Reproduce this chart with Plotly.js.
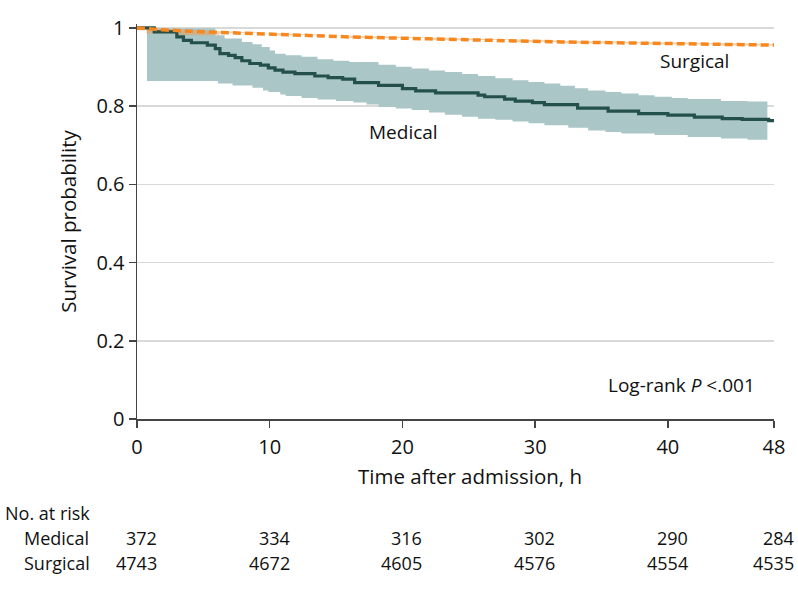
<!DOCTYPE html>
<html>
<head>
<meta charset="utf-8">
<script src="https://cdn.plot.ly/plotly-3.0.1.min.js"></script>
<style>html,body{margin:0;padding:0;background:#fff;}#chart{width:798px;height:590px;}</style>
</head>
<body>
<div id="chart"></div>
<script>
// Medical Kaplan-Meier estimate (step function)
const medT = [0, 1.3, 3.0, 3.5, 4.1, 5.3, 5.9, 6.25, 6.9, 7.4, 7.9, 8.5, 9.3, 9.9, 10.4, 11.0, 11.9, 13.4, 14.4, 15.5, 16.4, 18.2, 20.0, 21.0, 22.5, 25.7, 26.2, 27.7, 28.5, 29.8, 30.7, 33.2, 35.5, 37.8, 40.0, 42.0, 44.1, 45.6, 47.6, 48];
const medS = [1.0, 0.990, 0.977, 0.968, 0.962, 0.956, 0.947, 0.934, 0.930, 0.924, 0.916, 0.909, 0.905, 0.898, 0.892, 0.887, 0.883, 0.877, 0.873, 0.869, 0.860, 0.853, 0.845, 0.839, 0.834, 0.828, 0.824, 0.818, 0.813, 0.809, 0.804, 0.795, 0.787, 0.781, 0.777, 0.772, 0.768, 0.766, 0.763, 0.763];
// Medical 95% CI
const medLoT = [0.75, 6.1, 7.2, 8.7, 9.5, 9.9, 10.8, 11.2, 12.4, 13.6, 15.0, 16.3, 17.3, 18.2, 19.5, 20.7, 22.0, 23.2, 24.5, 25.7, 27.0, 28.3, 29.5, 30.7, 32.5, 34.0, 35.3, 36.5, 39.0, 41.5, 44.0, 46.0, 47.5];
const medLo = [0.864, 0.858, 0.853, 0.847, 0.840, 0.836, 0.830, 0.826, 0.821, 0.817, 0.813, 0.809, 0.804, 0.798, 0.794, 0.790, 0.784, 0.778, 0.773, 0.768, 0.765, 0.761, 0.756, 0.751, 0.745, 0.738, 0.734, 0.730, 0.726, 0.721, 0.717, 0.714, 0.713];
const medHiT = [0.75, 5.9, 6.6, 7.9, 8.7, 9.4, 10.0, 10.4, 11.2, 12.4, 13.6, 14.8, 16.0, 18.2, 19.5, 20.7, 22.0, 23.2, 24.5, 25.7, 27.0, 28.3, 29.5, 30.7, 31.9, 33.0, 34.0, 35.3, 36.5, 37.8, 39.0, 40.3, 41.5, 44.0, 46.0, 47.5];
const medHi = [0.999, 0.981, 0.973, 0.964, 0.958, 0.951, 0.942, 0.934, 0.930, 0.926, 0.920, 0.916, 0.913, 0.906, 0.901, 0.896, 0.891, 0.887, 0.882, 0.877, 0.871, 0.866, 0.862, 0.858, 0.852, 0.846, 0.840, 0.836, 0.832, 0.828, 0.824, 0.821, 0.818, 0.813, 0.812, 0.811];
// Surgical estimate and CI
const surT = [0, 2, 5, 10, 16, 22, 28, 32, 38, 44, 48];
const surS = [1.0, 0.995, 0.990, 0.984, 0.977, 0.972, 0.967, 0.964, 0.961, 0.958, 0.956];
const surLoT = [0, 0.7, 3.0, 6.2, 10, 16, 22, 28, 32, 38, 44, 48];
const surLo = [0.997, 0.986, 0.981, 0.987, 0.981, 0.974, 0.969, 0.964, 0.961, 0.958, 0.955, 0.953];
const surHiT = [0, 2, 5, 10, 16, 22, 28, 32, 38, 44, 48];
const surHi = [1.0, 0.998, 0.993, 0.987, 0.980, 0.975, 0.970, 0.967, 0.964, 0.961, 0.959];
// Axis ticks
const xTicks = [0, 10, 20, 30, 40, 48];
const yTicks = [0, 0.2, 0.4, 0.6, 0.8, 1];
const yTickText = ["0", "0.2", "0.4", "0.6", "0.8", "1"];
// Number at risk
const riskMedical = [372, 334, 316, 302, 290, 284];
const riskSurgical = [4743, 4672, 4605, 4576, 4554, 4535];

const FONT = "Open Sans, Liberation Sans, Arial, sans-serif";
const teal = "#24504c";
const bandTeal = "rgb(170,198,198)";
const orange = "#f7871f";

const traces = [
  {x: medLoT, y: medLo, type: "scatter", mode: "lines", line: {shape: "hv", width: 0, color: bandTeal}, hoverinfo: "skip", showlegend: false},
  {x: medHiT, y: medHi, type: "scatter", mode: "lines", line: {shape: "hv", width: 0, color: bandTeal}, fill: "tonexty", fillcolor: bandTeal, hoverinfo: "skip", showlegend: false},
  {x: surLoT, y: surLo, type: "scatter", mode: "lines", line: {shape: "hv", width: 0, color: orange}, hoverinfo: "skip", showlegend: false},
  {x: surHiT, y: surHi, type: "scatter", mode: "lines", line: {width: 0, color: orange}, fill: "tonexty", fillcolor: "rgba(247,150,70,0.45)", hoverinfo: "skip", showlegend: false},
  {x: medT, y: medS, type: "scatter", mode: "lines", name: "Medical", line: {shape: "hv", width: 3.2, color: teal}, showlegend: false},
  {x: surT, y: surS, type: "scatter", mode: "lines", name: "Surgical", line: {width: 3.5, color: orange, dash: "8px,4px"}, showlegend: false}
];

const TXT = {family: FONT, size: 18, color: "#111"};
const annotations = [
  {x: 42.0, y: 0.916, xref: "x", yref: "y", text: "Surgical", showarrow: false, font: {family: FONT, size: 19, color: "#111"}},
  {x: 20.05, y: 0.734, xref: "x", yref: "y", text: "Medical", showarrow: false, font: {family: FONT, size: 19, color: "#111"}},
  {x: 41.0, y: 0.087, xref: "x", yref: "y", text: "Log-rank <i>P</i> <.001", showarrow: false, font: {family: FONT, size: 19, color: "#111"}},
  {x: 0.5228, y: -0.144, xref: "paper", yref: "paper", xanchor: "center", yanchor: "middle", text: "Time after admission, h", showarrow: false, font: {family: FONT, size: 20.5, color: "#111"}},
  {x: -0.2104, y: -0.238, xref: "paper", yref: "paper", xanchor: "left", yanchor: "middle", text: "No. at risk", showarrow: false, font: TXT},
  {x: -0.1805, y: -0.301, xref: "paper", yref: "paper", xanchor: "left", yanchor: "middle", text: "Medical", showarrow: false, font: TXT},
  {x: -0.1805, y: -0.365, xref: "paper", yref: "paper", xanchor: "left", yanchor: "middle", text: "Surgical", showarrow: false, font: TXT}
];
xTicks.forEach((t, i) => {
  annotations.push({x: t, y: -0.301, xref: "x", yref: "paper", xanchor: "right", yanchor: "middle", xshift: 22, text: String(riskMedical[i]), showarrow: false, font: TXT});
  annotations.push({x: t, y: -0.365, xref: "x", yref: "paper", xanchor: "right", yanchor: "middle", xshift: 22, text: String(riskSurgical[i]), showarrow: false, font: TXT});
});

const layout = {
  width: 798, height: 590,
  margin: {l: 137, r: 24, t: 24, b: 171, pad: 0},
  paper_bgcolor: "#fff", plot_bgcolor: "#fff",
  font: {family: FONT, size: 19, color: "#111"},
  showlegend: false,
  xaxis: {
    range: [0, 48], tickvals: xTicks, ticktext: xTicks.map(String),
    showgrid: false, zeroline: false, showline: true, linecolor: "#444", linewidth: 1.5,
    ticks: "outside", ticklen: 7, tickwidth: 1.5, tickcolor: "#444",
    ticklabelstandoff: 2,
    tickfont: {family: FONT, size: 20, color: "#111"}
  },
  yaxis: {
    range: [0, 1.01], tickvals: yTicks, ticktext: yTickText,
    showgrid: true, gridcolor: "#d9d9d9", gridwidth: 1.5, zeroline: false,
    showline: true, linecolor: "#444", linewidth: 1.5,
    ticks: "outside", ticklen: 7, tickwidth: 1.5, tickcolor: "#444",
    tickfont: {family: FONT, size: 20, color: "#111"},
    title: {text: "Survival probability", font: {family: FONT, size: 20.5, color: "#111"}, standoff: 14}
  },
  annotations: annotations
};

Plotly.newPlot("chart", traces, layout, {displayModeBar: false, staticPlot: true});
</script>
</body>
</html>
